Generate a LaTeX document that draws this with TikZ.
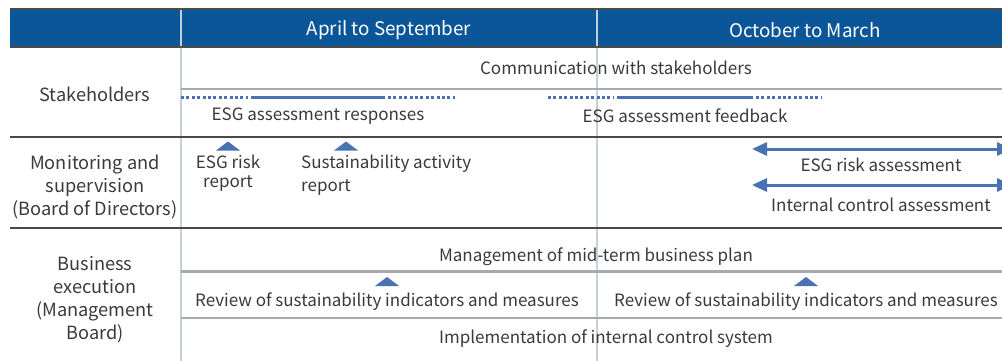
\documentclass[tikz,border=0pt]{standalone}
\usepackage{fontspec}
\setmainfont{Noto Sans CJK JP}
\usetikzlibrary{arrows.meta, positioning}
\definecolor{cband}{HTML}{0B5599}
\definecolor{cmark}{HTML}{4A72B2}
\definecolor{crule}{HTML}{A9AAAD}
\definecolor{cgrid}{HTML}{C5D0DB}
\definecolor{cedge}{HTML}{4A4A4A}
\definecolor{ctext}{HTML}{3A3A3A}
\tikzset{
  every picture/.style={x=1pt, y=-1pt, font=\fontsize{17}{23}\selectfont},
  lbl/.style={align=center, inner sep=0pt, text=ctext},
  head/.style={lbl, text=white, font=\fontsize{18.8}{23}\selectfont},
  rowlbl/.style={lbl, font=\fontsize{18.2}{23}\selectfont},
  bar/.style={draw=crule, line width=2.6pt},
  dotbar/.style={draw=cmark, line width=3pt, dash pattern=on 3pt off 2.4pt},
  solidbar/.style={draw=cmark, line width=3pt},
  span/.style={{Triangle[length=15pt,width=13pt]}-{Triangle[length=15pt,width=13pt]}, draw=cmark, line width=3pt},
  edge/.style={draw=cedge, line width=1.1pt},
}

\begin{document}
\begin{tikzpicture}
  \useasboundingbox (0,0) rectangle (1002,361);
  % header band and grid
  \fill[cband] (10,9) rectangle (1010,47);
  \foreach \x in {181, 597} \draw[cgrid, line width=1.2pt] (\x,9) -- (\x,361);
  \foreach \y in {9, 47, 137, 228} \draw[edge] (10,\y) -- (1010,\y);
  \node[head] (h1) at (389,30) {April to September};
  \node[head] (h2) at (805,30) {October to March};

  % row labels
  \node[rowlbl] (r1) at (95,94) {Stakeholders};
  \node[rowlbl] (r2) at (95,187) {Monitoring and\\supervision\\(Board of Directors)};
  \node[rowlbl] (r3) at (95,300) {Business\\execution\\(Management\\Board)};

  % stakeholders
  \node[lbl] (comm) at (616,68) {Communication with stakeholders};
  \draw[bar] (181,89) -- (1010,89);
  \foreach \a/\b/\c/\d in {181/248/388/455, 548/614/756/821} {
    \draw[dotbar] (\a,98) -- (\b,98);
    \draw[solidbar] (\b+3,98) -- (\c-3,98);
    \draw[dotbar] (\c,98) -- (\d,98);
  }
  \node[lbl] (resp) at (318,116) {ESG assessment responses};
  \node[lbl] (feed) at (685,116) {ESG assessment feedback};

  % monitoring and supervision
  \node[lbl, font=\fontsize{17}{19}\selectfont] (riskrep) at (228,173.5) {ESG risk\\report};
  \node[lbl, align=left, anchor=north west] (susrep) at (301,155) {Sustainability activity\\report};
  \coordinate (ra-l) at (752,149);
  \coordinate (ra-r) at (1012,149);
  \coordinate (ic-l) at (752,185);
  \coordinate (ic-r) at (1012,185);
  \draw[span] (ra-l) -- (ra-r);
  \draw[span] (ic-l) -- (ic-r);
  \node[lbl] (risk) at (881,165) {ESG risk assessment};
  \node[lbl] (ictl) at (881,205) {Internal control assessment};

  % business execution
  \node[lbl] (plan) at (596,257) {Management of mid-term business plan};
  \draw[bar] (181,271.5) -- (1010,271.5);
  \node[lbl] (rev1) at (387,302) {Review of sustainability indicators and measures};
  \node[lbl] (rev2) at (806,302) {Review of sustainability indicators and measures};
  \draw[bar] (181,318) -- (1010,318);
  \node[lbl] (impl) at (606,338.5) {Implementation of internal control system};

  % report markers
  \foreach \x/\y in {228/146, 346/146, 387/281.5, 806/281.5}
    \fill[cmark] (\x-12,\y+4.5) -- (\x,\y-4.5) -- (\x+12,\y+4.5) -- cycle;
\end{tikzpicture}
\end{document}
